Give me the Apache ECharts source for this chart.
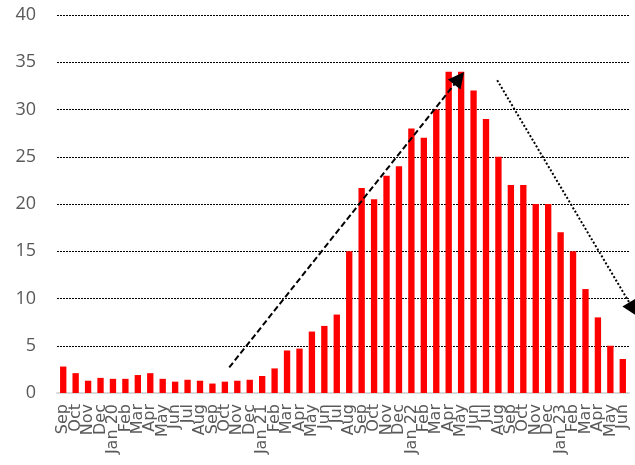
<!DOCTYPE html>
<html>
<head>
<meta charset="utf-8">
<script src="https://cdn.jsdelivr.net/npm/echarts@6/dist/echarts.min.js"></script>
<style>
  html, body { margin: 0; padding: 0; background: #fff; }
  #chart { width: 635px; height: 465px; }
</style>
</head>
<body>
<div id="chart"></div>
<script>
// Monthly categories, Sep 2019 to Jun 2023
const months = [
  'Sep', 'Oct', 'Nov', 'Dec', 'Jan 20', 'Feb', 'Mar', 'Apr', 'May', 'Jun', 'Jul', 'Aug',
  'Sep', 'Oct', 'Nov', 'Dec', 'Jan 21', 'Feb', 'Mar', 'Apr', 'May', 'Jun', 'Jul', 'Aug',
  'Sep', 'Oct', 'Nov', 'Dec', 'Jan 22', 'Feb', 'Mar', 'Apr', 'May', 'Jun', 'Jul', 'Aug',
  'Sep', 'Oct', 'Nov', 'Dec', 'Jan 23', 'Feb', 'Mar', 'Apr', 'May', 'Jun'
];

const values = [
  2.8, 2.1, 1.3, 1.6, 1.5, 1.5, 1.9, 2.1, 1.5, 1.2, 1.4, 1.3,
  1.0, 1.2, 1.3, 1.4, 1.8, 2.6, 4.5, 4.7, 6.5, 7.1, 8.3, 15,
  21.7, 20.5, 23, 24, 28, 27, 30, 34, 34, 32, 29, 25,
  22, 22, 20, 20, 17, 15, 11, 8, 5, 3.6
];

// Trend arrows, given as [category position, value] pairs;
// the end point is where the arrowhead is centred
const riseArrow = [[13.35, 2.7], [31.84, 33.3]];
const fallArrow = [[34.9, 33.1], [45.85, 8.85]];

const yTicks = { min: 0, max: 40, interval: 5 };

const chart = echarts.init(document.getElementById('chart'), null, { renderer: 'canvas' });

chart.setOption({
  animation: false,
  grid: { left: 57, right: 6, top: 15, bottom: 72 },
  xAxis: [
    {
      type: 'category',
      data: months,
      boundaryGap: true,
      axisLine: { show: true, lineStyle: { color: '#d9d9d9', width: 2 } },
      axisTick: { show: false },
      axisLabel: {
        interval: 0,
        rotate: 90,
        margin: 11,
        color: '#595959',
        fontFamily: 'DejaVu Sans',
        fontSize: 16
      },
      splitLine: { show: false }
    },
    {
      type: 'value',
      min: -0.5,
      max: 45.5,
      show: false
    }
  ],
  yAxis: {
    type: 'value',
    min: yTicks.min,
    max: yTicks.max,
    interval: yTicks.interval,
    axisLine: { show: false },
    axisTick: { show: false },
    axisLabel: {
      margin: 21,
      color: '#595959',
      fontFamily: 'Open Sans',
      fontSize: 18
    },
    splitLine: {
      show: true,
      showMinLine: false,
      lineStyle: { color: '#000', width: 1, type: [2, 1] }
    }
  },
  series: [
    {
      type: 'bar',
      data: values,
      barWidth: '51%',
      itemStyle: { color: '#ff0000' }
    },
    {
      type: 'lines',
      coordinateSystem: 'cartesian2d',
      xAxisIndex: 1,
      yAxisIndex: 0,
      clip: false,
      silent: true,
      symbol: ['none', 'triangle'],
      symbolSize: 16,
      z: 5,
      lineStyle: { color: '#000', width: 2, opacity: 1 },
      data: [
        { coords: riseArrow, lineStyle: { color: '#000', width: 2, opacity: 1, type: [6, 3] } },
        { coords: fallArrow, lineStyle: { color: '#000', width: 2, opacity: 1, type: [2, 2] } }
      ]
    }
  ]
});
</script>
</body>
</html>
